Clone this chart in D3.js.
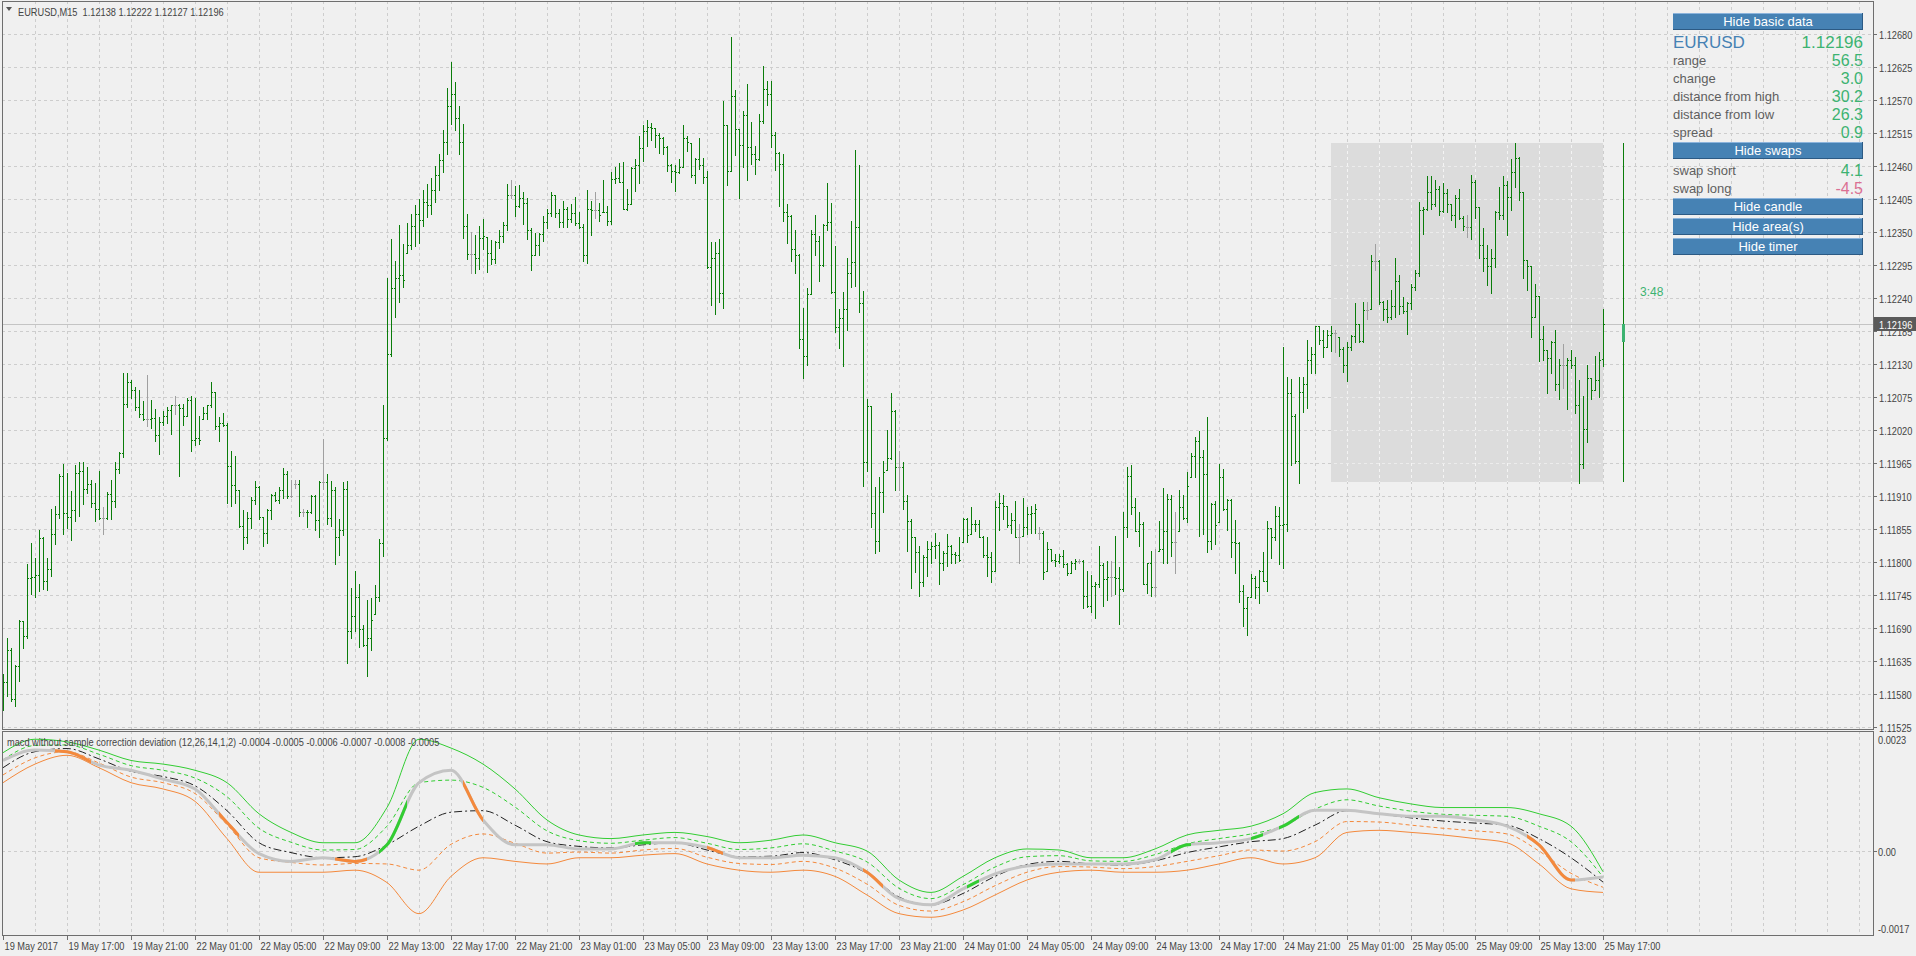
<!DOCTYPE html>
<html><head><meta charset="utf-8">
<script src="https://cdn.jsdelivr.net/npm/d3@7"></script>
<style>
html,body{margin:0;padding:0;background:#f0f0f0;overflow:hidden;}
svg{display:block;}
text{white-space:pre;}
</style></head><body>
<script>
// ---------- DATA ----------
// prices stored in points (1e-5) above BASE
const BASE = 1.11;
const symbolTitle = "EURUSD,M15  1.12138 1.12222 1.12127 1.12196";
const high = [613,674,657,629,704,702,797,831,807,854,841,806,888,894,947,964,949,918,962,966,966,959,937,931,952,891,916,937,966,984,1115,1115,1103,1091,1086,1068,1111,1070,1055,1042,1052,1058,1062,1077,1064,1063,1073,1077,1073,1044,1059,1062,1100,1084,1041,1048,1031,985,977,920,886,884,908,935,927,875,889,913,916,925,957,952,937,937,937,888,886,912,912,935,1005,947,935,925,871,933,935,757,785,763,695,736,740,762,838,1062,1274,1338,1301,1361,1330,1365,1380,1395,1405,1420,1430,1440,1460,1480,1520,1590,1633,1600,1560,1530,1380,1350,1345,1360,1371,1342,1336,1335,1354,1367,1430,1437,1426,1429,1417,1406,1357,1348,1349,1376,1388,1417,1412,1389,1401,1391,1396,1409,1383,1364,1420,1402,1417,1399,1437,1393,1450,1459,1465,1467,1421,1459,1472,1510,1529,1537,1531,1523,1515,1508,1494,1463,1462,1472,1529,1510,1498,1474,1507,1474,1452,1333,1333,1338,1568,1528,1675,1586,1521,1551,1597,1533,1494,1547,1627,1602,1601,1516,1483,1480,1397,1379,1353,1313,1223,1257,1353,1379,1343,1364,1432,1399,1326,1221,1250,1307,1369,1487,1462,1252,1071,1060,925,941,969,1020,1082,1053,985,966,912,872,842,827,811,835,834,848,834,819,846,829,817,842,873,873,891,870,870,844,841,816,901,915,912,894,881,901,863,907,891,894,897,859,852,833,822,814,814,820,799,801,805,805,803,785,779,766,827,798,801,801,844,791,884,958,962,907,884,866,799,818,822,869,924,913,911,883,920,912,950,981,1008,1019,986,1042,898,901,963,955,905,905,870,833,762,742,780,777,787,816,868,857,894,891,1159,1109,1105,1046,1108,1109,1170,1159,1194,1194,1187,1187,1193,1186,1175,1158,1166,1179,1232,1196,1233,1233,1311,1330,1304,1235,1237,1254,1306,1278,1241,1233,1264,1287,1400,1391,1443,1443,1437,1426,1432,1421,1397,1411,1422,1376,1378,1445,1436,1391,1357,1328,1321,1385,1425,1443,1435,1471,1499,1475,1417,1303,1294,1263,1244,1193,1154,1169,1186,1139,1163,1140,1153,1142,1104,1076,1129,1107,1143,1150,1222];
const low = [554,577,568,560,602,656,673,747,742,752,755,753,777,830,874,847,857,836,869,877,896,915,891,869,871,846,871,871,891,948,975,1058,1073,1053,1041,1036,1027,1023,1001,980,1029,1031,1014,1046,944,1029,1044,985,995,997,1038,1038,1059,1022,1002,1027,899,894,898,859,821,831,856,896,871,827,831,871,901,899,906,906,909,924,876,877,858,881,853,842,921,863,860,797,812,845,632,674,685,658,660,610,653,714,735,810,1003,1144,1209,1233,1259,1315,1322,1326,1332,1360,1375,1380,1400,1420,1450,1480,1530,1520,1480,1340,1305,1281,1281,1289,1322,1283,1297,1298,1323,1333,1353,1406,1376,1391,1363,1338,1287,1311,1312,1335,1357,1376,1375,1358,1359,1358,1366,1361,1356,1301,1299,1345,1373,1368,1383,1361,1363,1432,1434,1388,1386,1397,1419,1432,1469,1494,1503,1492,1482,1480,1452,1434,1419,1449,1459,1485,1441,1432,1455,1432,1290,1229,1214,1234,1224,1429,1452,1478,1406,1459,1437,1463,1447,1470,1531,1561,1492,1454,1394,1369,1331,1302,1282,1157,1106,1128,1247,1311,1269,1293,1353,1249,1183,1157,1126,1186,1258,1260,1216,926,952,859,815,819,884,953,971,920,920,888,819,756,784,743,760,776,799,806,764,786,793,798,798,802,833,833,847,852,841,809,777,766,785,853,872,858,848,842,799,844,847,849,848,838,772,785,801,794,798,792,779,781,788,798,724,725,716,706,758,727,736,744,746,696,752,842,880,851,827,764,749,744,744,819,799,799,810,781,852,872,866,941,942,844,847,816,822,830,866,887,853,808,781,734,694,679,741,740,731,768,751,807,837,797,790,852,962,965,931,1050,1057,1115,1115,1163,1141,1158,1151,1150,1144,1116,1101,1153,1167,1167,1167,1205,1222,1286,1230,1204,1200,1205,1208,1213,1215,1180,1222,1254,1276,1347,1387,1389,1393,1378,1383,1383,1370,1358,1371,1353,1342,1339,1374,1306,1285,1261,1248,1292,1371,1371,1345,1387,1425,1404,1274,1253,1175,1208,1135,1136,1081,1115,1086,1072,1090,1055,1124,1048,931,957,1000,1072,1087,1075,1127];
const close = [600,654,571,627,701,677,773,775,778,840,768,788,846,880,944,881,875,886,948,952,921,930,899,888,873,874,914,902,955,981,1063,1100,1087,1059,1046,1038,1038,1040,1012,1033,1044,1053,1061,1061,1056,1044,1070,1003,1007,1004,1049,1061,1083,1027,1031,1029,960,929,920,860,841,874,904,925,875,849,886,912,903,920,947,910,910,930,883,883,884,910,870,934,934,874,920,842,853,921,685,710,741,689,662,674,704,741,831,1007,1147,1256,1274,1278,1270,1329,1360,1380,1370,1400,1395,1420,1445,1470,1500,1560,1580,1540,1500,1360,1313,1313,1306,1340,1344,1315,1305,1333,1343,1361,1412,1412,1394,1406,1399,1353,1312,1328,1346,1367,1381,1412,1381,1367,1389,1371,1381,1365,1358,1312,1389,1386,1386,1379,1384,1368,1439,1440,1434,1389,1397,1457,1461,1490,1518,1525,1523,1511,1507,1492,1462,1452,1450,1459,1507,1500,1445,1472,1461,1441,1291,1307,1315,1249,1528,1452,1576,1521,1495,1545,1492,1480,1472,1535,1588,1580,1511,1482,1463,1383,1376,1322,1311,1172,1143,1247,1346,1335,1295,1361,1366,1250,1192,1207,1221,1282,1300,1359,1231,966,1060,881,835,917,950,974,1052,958,958,901,868,842,817,766,809,821,827,829,798,815,826,813,811,804,872,845,863,864,842,812,809,785,891,899,894,861,870,842,842,858,880,881,888,849,784,822,803,801,810,797,781,799,802,802,744,727,760,763,795,771,775,775,773,755,858,944,891,852,863,764,798,759,759,822,852,905,833,833,891,873,927,977,1002,975,947,835,897,862,942,888,903,834,831,752,723,741,774,759,785,769,857,842,876,862,863,1081,1044,969,1083,1096,1136,1146,1193,1170,1158,1179,1182,1182,1155,1129,1158,1176,1196,1168,1220,1220,1302,1302,1233,1222,1209,1226,1269,1226,1218,1232,1259,1282,1386,1389,1417,1397,1422,1385,1415,1396,1378,1406,1374,1360,1358,1434,1392,1328,1306,1293,1307,1383,1378,1428,1409,1450,1473,1417,1303,1293,1208,1244,1172,1153,1140,1166,1097,1128,1128,1137,1128,1061,963,1022,1107,1087,1104,1137,1196];
const open = [580,600,654,571,627,701,677,773,775,778,840,768,788,846,880,944,881,875,886,948,952,921,930,899,888,874,874,914,902,955,981,1063,1100,1087,1059,1046,1038,1038,1040,1012,1033,1044,1053,1061,1061,1056,1044,1070,1003,1007,1004,1049,1061,1083,1027,1031,1029,960,929,920,860,841,874,904,925,875,849,886,912,903,920,947,910,930,930,883,883,884,910,870,934,934,874,920,842,853,921,685,710,741,689,662,674,704,741,831,1007,1147,1256,1274,1278,1270,1329,1360,1380,1370,1400,1395,1420,1445,1470,1500,1560,1580,1540,1500,1360,1313,1313,1306,1340,1344,1315,1305,1333,1343,1361,1412,1412,1394,1406,1399,1353,1312,1328,1346,1367,1381,1412,1381,1367,1389,1371,1381,1365,1358,1312,1389,1386,1386,1379,1384,1368,1439,1440,1434,1389,1397,1457,1461,1490,1518,1525,1523,1511,1507,1492,1462,1452,1450,1459,1507,1500,1445,1472,1461,1441,1291,1307,1315,1249,1528,1452,1576,1521,1495,1545,1492,1480,1472,1535,1588,1580,1511,1482,1463,1383,1376,1322,1311,1172,1143,1247,1346,1335,1295,1361,1366,1250,1192,1207,1221,1282,1300,1359,1231,966,1060,881,835,917,950,974,1052,958,958,901,868,842,817,766,809,821,827,829,798,815,826,813,811,804,872,845,863,864,842,812,809,785,891,899,894,861,870,842,842,858,880,881,849,849,784,822,803,801,810,797,781,799,802,802,744,727,760,763,795,771,775,775,773,755,858,944,891,852,863,764,798,759,759,822,852,905,833,833,891,873,927,977,1002,975,947,835,897,862,942,888,903,834,831,752,723,741,774,759,785,769,857,842,876,862,863,1081,1044,969,1083,1096,1136,1146,1193,1170,1158,1179,1182,1182,1155,1129,1158,1176,1196,1168,1220,1220,1302,1302,1233,1222,1209,1226,1269,1226,1218,1232,1259,1282,1386,1389,1417,1397,1422,1385,1415,1396,1378,1406,1374,1358,1358,1434,1392,1328,1306,1293,1307,1383,1378,1428,1409,1450,1473,1417,1303,1293,1208,1244,1172,1153,1140,1166,1097,1128,1128,1137,1128,1061,963,1022,1107,1087,1104,1138];

const timeLabels = ["19 May 2017","19 May 17:00","19 May 21:00","22 May 01:00","22 May 05:00","22 May 09:00","22 May 13:00","22 May 17:00","22 May 21:00","23 May 01:00","23 May 05:00","23 May 09:00","23 May 13:00","23 May 17:00","23 May 21:00","24 May 01:00","24 May 05:00","24 May 09:00","24 May 13:00","24 May 17:00","24 May 21:00","25 May 01:00","25 May 05:00","25 May 09:00","25 May 13:00","25 May 17:00"];
const priceTicks = ["1.11525","1.11580","1.11635","1.11690","1.11745","1.11800","1.11855","1.11910","1.11965","1.12020","1.12075","1.12130","1.12185","1.12240","1.12295","1.12350","1.12405","1.12460","1.12515","1.12570","1.12625","1.12680"];

// daily candle (open, high, low, close) and area box
const dayCandle = [1.12166, 1.12498, 1.11933, 1.12196];
const areaStartBar = 332;
const timerText = "3:48";

// indicator values in 1e-5, sampled every 8 bars (bars 0..400)
const indUpper  = [190,216,211,195,175,168,156,132,72,36,16,16,84,216,199,168,120,60,31,24,31,36,28,16,21,31,16,0,-56,-80,-49,-13,4,2,-13,-13,4,31,40,48,72,113,120,103,91,84,84,84,72,48,-40];
const indUpperD = [176,204,205,187,165,156,141,105,44,17,2,3,48,132,137,123,85,39,20,15,21,26,15,3,6,14,0,-21,-72,-92,-65,-31,-11,-9,-19,-20,-7,14,24,33,48,81,99,87,77,71,69,67,48,18,-50];
const indMid    = [161,192,198,178,154,144,126,78,16,-3,-13,-11,12,48,75,78,50,18,9,6,12,16,2,-11,-10,-3,-17,-43,-89,-104,-82,-49,-26,-20,-25,-27,-19,-3,8,18,24,50,78,72,64,58,54,50,24,-13,-60];
const indLowerD = [147,180,192,170,143,132,111,51,-13,-22,-27,-24,-25,-37,13,33,15,-4,-2,-4,2,5,-12,-24,-26,-20,-33,-64,-105,-116,-98,-67,-41,-30,-31,-34,-30,-20,-9,2,0,18,57,56,50,44,39,33,0,-43,-70];
const indLower  = [132,168,185,161,132,120,96,24,-41,-41,-41,-37,-61,-121,-49,-13,-20,-25,-13,-13,-8,-5,-25,-37,-41,-37,-49,-85,-121,-128,-114,-85,-56,-41,-37,-41,-41,-37,-25,-13,-25,-13,36,40,36,31,24,16,-25,-73,-80];
const indMacd   = [175,195,192,166,156,139,120,55,-5,-20,-13,-20,12,132,156,60,12,12,4,4,16,16,7,-13,-13,-8,-13,-41,-92,-104,-73,-44,-29,-25,-25,-25,-17,12,16,24,48,79,79,72,67,67,60,48,12,-56,-50];
const macdUpSegs = [[94,101],[158,162],[241,244],[292,297],[312,315],[319,324]];
const macdDnSegs = [[13,22],[54,59],[83,91],[115,120],[176,180],[215,220],[381,393]];
const indTitle = "macd without sample correction deviation (12,26,14,1,2) -0.0004 -0.0005 -0.0006 -0.0007 -0.0008 -0.0005";
const indTicks = [0.0023, 0.00, -0.0017];
const indTickLabels = ["0.0023","0.00","-0.0017"];

const infoRows = [["range","56.5"],["change","3.0"],["distance from high","30.2"],["distance from low","26.3"],["spread","0.9"]];
const swapRows = [["swap short","4.1"],["swap long","-4.5"]];

// ---------- DRAW ----------
const W=1916, H=956;
const ARIAL = "'Liberation Sans',Arial,sans-serif";
const SX = 0.84; // horizontal squeeze to imitate the narrow terminal font
const svg = d3.select("body").append("svg").attr("width",W).attr("height",H);
svg.append("rect").attr("width",W).attr("height",H).attr("fill","#f0f0f0");

function ntext(g, tx, ty, str, fill){
  return g.append("text").attr("transform",`translate(${tx},${ty}) scale(${SX},1)`)
    .attr("font-family",ARIAL).attr("font-size",11).attr("fill",fill||"#444").text(str);
}

const P = {l:2, r:1873, t:1, b:729};
const I = {t:731, b:935};
const x = d3.scaleLinear().domain([0,400]).range([3,1603]);
const y = d3.scaleLinear().domain([1.11525,1.12680]).range([727,34]);
const yi = d3.scaleLinear().domain([-0.0017,0.0023]).range([939,732]);
const pv = v => BASE + v/1e5;
const px = i => Math.round(x(i));

const defs = svg.append("defs");
defs.append("clipPath").attr("id","cMain").append("rect").attr("x",P.l+1).attr("y",P.t+1).attr("width",P.r-P.l-1).attr("height",P.b-P.t-1);
defs.append("clipPath").attr("id","cInd").append("rect").attr("x",P.l+1).attr("y",I.t+1).attr("width",P.r-P.l-1).attr("height",I.b-I.t-1);

const gridColor = "#cdcdcd";
const main = svg.append("g").attr("clip-path","url(#cMain)");
const ind = svg.append("g").attr("clip-path","url(#cInd)");

// vertical grid
const vg = d3.range(8, 470, 8);
[[main,P.t,P.b],[ind,I.t,I.b]].forEach(([g,t,b])=>{
  g.selectAll(null).data(vg).join("line")
    .attr("x1",d=>px(d)+0.5).attr("x2",d=>px(d)+0.5).attr("y1",t).attr("y2",b)
    .attr("stroke",gridColor).attr("stroke-dasharray","3,3");
});
// horizontal grid
main.selectAll(null).data(priceTicks).join("line")
  .attr("x1",P.l).attr("x2",P.r).attr("y1",d=>Math.round(y(+d))+0.5).attr("y2",d=>Math.round(y(+d))+0.5)
  .attr("stroke",gridColor).attr("stroke-dasharray","3,3");
ind.append("line").attr("x1",P.l).attr("x2",P.r).attr("y1",Math.round(yi(0))+0.5).attr("y2",Math.round(yi(0))+0.5)
  .attr("stroke",gridColor).attr("stroke-dasharray","3,3");

// area box
const bx0 = px(areaStartBar), bx1 = px(400), by0 = Math.round(y(dayCandle[1])), by1 = Math.round(y(dayCandle[2]));
main.append("rect").attr("x",bx0).attr("y",by0).attr("width",bx1-bx0).attr("height",by1-by0).attr("fill","#dcdcdc");
defs.append("clipPath").attr("id","cBox").append("rect").attr("x",bx0).attr("y",by0).attr("width",bx1-bx0).attr("height",by1-by0);
const boxG = main.append("g").attr("clip-path","url(#cBox)");
boxG.selectAll(null).data(vg).join("line")
  .attr("x1",d=>px(d)+0.5).attr("x2",d=>px(d)+0.5).attr("y1",P.t).attr("y2",P.b)
  .attr("stroke","#f4f4f4").attr("stroke-dasharray","3,3");
boxG.selectAll(null).data(priceTicks).join("line")
  .attr("x1",P.l).attr("x2",P.r).attr("y1",d=>Math.round(y(+d))+0.5).attr("y2",d=>Math.round(y(+d))+0.5)
  .attr("stroke","#ececec").attr("stroke-dasharray","3,3");

// current price line
const lastY = Math.round(y(dayCandle[3]))+0.5;
main.append("line").attr("x1",P.l).attr("x2",P.r).attr("y1",lastY).attr("y2",lastY).attr("stroke","#c4c4c4");

// bars
const bars = d3.range(close.length).map(i=>({i,o:open[i],h:high[i],l:low[i],c:close[i]}));
const bg = main.append("g").attr("shape-rendering","crispEdges");
bars.forEach(d=>{
  const col = d.o===d.c ? "#a0a0a0" : "#0a7d0a";
  const xx = px(d.i);
  const yh = Math.round(y(pv(d.h))), yl = Math.round(y(pv(d.l)));
  const oc = Math.min(Math.max(d.o,d.l),d.h);
  bg.append("rect").attr("x",xx).attr("y",yh).attr("width",1).attr("height",Math.max(1,yl-yh+1)).attr("fill",col);
  bg.append("rect").attr("x",xx-1).attr("y",Math.round(y(pv(oc)))).attr("width",1).attr("height",1).attr("fill",col);
  bg.append("rect").attr("x",xx+1).attr("y",Math.round(y(pv(d.c)))).attr("width",1).attr("height",1).attr("fill",col);
});

// daily candle
const cx = px(405);
bg.append("rect").attr("x",cx).attr("y",Math.round(y(dayCandle[1]))).attr("width",1)
  .attr("height",Math.round(y(dayCandle[2]))-Math.round(y(dayCandle[1]))).attr("fill","#0a7d0a");
bg.append("rect").attr("x",cx-1).attr("y",Math.round(y(Math.max(dayCandle[0],dayCandle[3])))).attr("width",3)
  .attr("height",Math.abs(Math.round(y(dayCandle[0]))-Math.round(y(dayCandle[3])))).attr("fill","#3cb371");

// timer
main.append("text").attr("x",x(409.25)).attr("y",y(1.12250)+4).attr("font-family",ARIAL).attr("font-size",12)
  .attr("fill","#3cb371").text(timerText);

// ---------- indicator ----------
const idx = d3.range(0,401,8);
const lineGen = d3.line().x((d,k)=>x(idx[k])).y(d=>yi(d/1e5)).curve(d3.curveMonotoneX);
ind.append("path").attr("d",lineGen(indUpper)).attr("fill","none").attr("stroke","#32cd32").attr("stroke-width",1);
ind.append("path").attr("d",lineGen(indUpperD)).attr("fill","none").attr("stroke","#32cd32").attr("stroke-width",1).attr("stroke-dasharray","4,3");
ind.append("path").attr("d",lineGen(indMid)).attr("fill","none").attr("stroke","#202020").attr("stroke-width",1).attr("stroke-dasharray","8,3,2,3");
ind.append("path").attr("d",lineGen(indLowerD)).attr("fill","none").attr("stroke","#f4893c").attr("stroke-width",1).attr("stroke-dasharray","4,3");
ind.append("path").attr("d",lineGen(indLower)).attr("fill","none").attr("stroke","#f4893c").attr("stroke-width",1);
const macdD = lineGen(indMacd);
ind.append("path").attr("d",macdD).attr("fill","none").attr("stroke","#c4c4c4").attr("stroke-width",3);
function segs(list, color, id){
  list.forEach((s,k)=>{
    const cid = id+k;
    defs.append("clipPath").attr("id",cid).append("rect").attr("x",x(s[0])).attr("y",I.t).attr("width",x(s[1])-x(s[0])).attr("height",I.b-I.t);
    ind.append("path").attr("d",macdD).attr("fill","none").attr("stroke",color).attr("stroke-width",3).attr("clip-path",`url(#${cid})`);
  });
}
segs(macdUpSegs,"#32cd32","up");
segs(macdDnSegs,"#f4893c","dn");

// ---------- frames ----------
svg.append("rect").attr("x",P.l+0.5).attr("y",P.t+0.5).attr("width",P.r-P.l).attr("height",P.b-P.t).attr("fill","none").attr("stroke","#6e6e6e");
svg.append("rect").attr("x",P.l+0.5).attr("y",I.t+0.5).attr("width",P.r-P.l).attr("height",I.b-I.t).attr("fill","none").attr("stroke","#6e6e6e");

// ---------- axes ----------
const axG = svg.append("g");
priceTicks.forEach(t=>{
  const yy = Math.round(y(+t))+0.5;
  axG.append("line").attr("x1",P.r).attr("x2",P.r+4).attr("y1",yy).attr("y2",yy).attr("stroke","#6e6e6e");
  ntext(axG, P.r+6, yy+4, t);
});
// current price label
axG.append("rect").attr("x",P.r+1).attr("y",lastY-7.5).attr("width",W-P.r-1).attr("height",14).attr("fill","#5a5a5a");
ntext(axG, P.r+6, lastY+4, "1.12196", "#fff");
// indicator axis
indTicks.forEach((t,k)=>{
  const yy = Math.round(yi(t))+0.5;
  const off = k===0 ? 11 : (k===2 ? -7 : 4);
  if(k===1) axG.append("line").attr("x1",P.r).attr("x2",P.r+4).attr("y1",yy).attr("y2",yy).attr("stroke","#6e6e6e");
  ntext(axG, P.r+5, yy+off, indTickLabels[k]);
});
// time axis
timeLabels.forEach((t,k)=>{
  const xx = px(k*16)+0.5;
  axG.append("line").attr("x1",xx).attr("x2",xx).attr("y1",I.b).attr("y2",I.b+5).attr("stroke","#6e6e6e");
  ntext(axG, xx+1, 950, t);
});

// titles
svg.append("path").attr("d","M6,7 L12,7 L9,11 Z").attr("fill","#555");
ntext(svg, 18, 16, symbolTitle);
ntext(svg, 7, 746, indTitle);

// ---------- info panel ----------
const info = svg.append("g").attr("font-family",ARIAL);
function button(y0,label){
  info.append("rect").attr("x",1673).attr("y",y0).attr("width",190).attr("height",17).attr("fill","#4682b4");
  info.append("line").attr("x1",1673).attr("x2",1863).attr("y1",y0+0.5).attr("y2",y0+0.5).attr("stroke","#8cb4dc");
  info.append("line").attr("x1",1673).attr("x2",1863).attr("y1",y0+16.5).attr("y2",y0+16.5).attr("stroke","#2c5a84");
  info.append("line").attr("x1",1862.5).attr("x2",1862.5).attr("y1",y0).attr("y2",y0+17).attr("stroke","#2c5a84");
  info.append("text").attr("x",1768).attr("y",y0+13).attr("text-anchor","middle").attr("font-size",13).attr("fill","#fff").text(label);
}
button(13,"Hide basic data");
info.append("text").attr("x",1673).attr("y",48).attr("font-size",17).attr("fill","#4682b4").text("EURUSD");
info.append("text").attr("x",1863).attr("y",48).attr("font-size",17).attr("text-anchor","end").attr("fill","#3cb371").text("1.12196");
infoRows.forEach((r,k)=>{
  const yy = 60 + k*18;
  info.append("text").attr("x",1673).attr("y",yy+4.5).attr("font-size",13).attr("fill","#5f5f5f").text(r[0]);
  info.append("text").attr("x",1863).attr("y",yy+5.5).attr("font-size",16).attr("text-anchor","end").attr("fill","#3cb371").text(r[1]);
});
button(142,"Hide swaps");
swapRows.forEach((r,k)=>{
  const yy = 170 + k*18;
  info.append("text").attr("x",1673).attr("y",yy+4.5).attr("font-size",13).attr("fill","#5f5f5f").text(r[0]);
  info.append("text").attr("x",1863).attr("y",yy+5.5).attr("font-size",16).attr("text-anchor","end")
    .attr("fill", r[1].startsWith("-") ? "#db7093" : "#3cb371").text(r[1]);
});
button(198,"Hide candle");
button(218,"Hide area(s)");
button(238,"Hide timer");
</script>
</body></html>
